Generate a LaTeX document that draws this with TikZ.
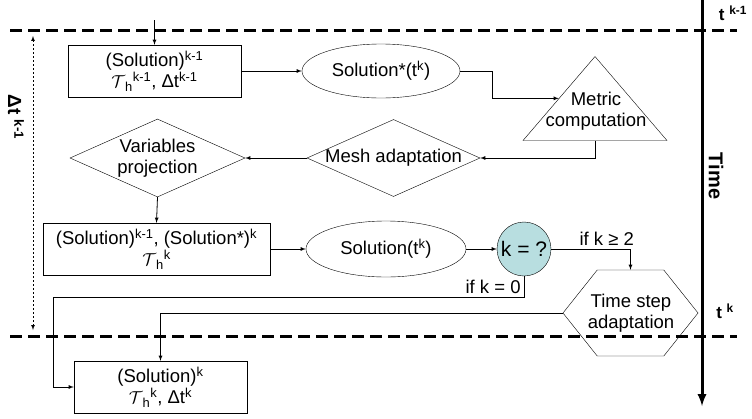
\documentclass[tikz,border=0pt]{standalone}
\usepackage{fontspec}
\setmainfont{Liberation Sans}
\usetikzlibrary{shapes.geometric,shapes.symbols}
\definecolor{testfill}{HTML}{B8DEE0}
\newcommand{\Th}{$\mathcal{T}$\textsubscript{h}}

\begin{document}
\begin{tikzpicture}[x=1pt,y=-1pt,>=latex,
                    font=\fontsize{18.5}{21}\selectfont,
                    stepbox/.style={draw,rectangle,align=center,minimum height=52pt,inner sep=1pt},
                    oval/.style={draw,ellipse,minimum width=158pt,minimum height=54pt,inner sep=0pt},
                    choice/.style={draw,diamond,align=center,aspect=2.24,minimum width=175pt,minimum height=78pt,inner sep=0pt},
                    timeline/.style={line width=3pt,dash pattern=on 12pt off 6pt},
                    edge/.style={draw,line width=0.8pt,->}]
  \useasboundingbox (0,0) rectangle (752,418);

  % time levels
  \coordinate (up1) at (10,30);  \coordinate (up2) at (737,30);
  \coordinate (lo1) at (10,336); \coordinate (lo2) at (737,336);
  \draw[timeline] (up1) -- (up2);
  \draw[timeline] (lo1) -- (lo2);
  \coordinate (ax1) at (702,0); \coordinate (ax2) at (702,406);
  \draw[line width=3pt,-latex] (ax1) -- (ax2);
  \node (tprev) at (733,13) {\fontsize{17}{19}\selectfont\textbf{t \textsuperscript{k-1}}};
  \node (tnext) at (725,311) {\fontsize{17}{19}\selectfont\textbf{t \textsuperscript{k}}};
  \node[rotate=-90] (time) at (716,176) {\fontsize{20}{22}\selectfont\textbf{Time}};
  \coordinate (dt1) at (33,36); \coordinate (dt2) at (33,330);
  \draw[line width=0.7pt,dash pattern=on 2pt off 2pt,latex-latex] (dt1) -- (dt2);
  \node[rotate=-90] (dt) at (16,117) {\fontsize{19}{21}\selectfont\textbf{Δt \textsuperscript{k-1}}};

  % steps
  \node[stepbox,minimum width=173pt] (prev) at (154.5,71)
    {(Solution)\textsuperscript{k-1}\\\Th\textsuperscript{k-1}, Δt\textsuperscript{k-1}};
  \node[oval] (star) at (381,71) {Solution*(t\textsuperscript{k})};
  \node[draw,isosceles triangle,shape border rotate=90,isosceles triangle stretches,
        minimum width=144pt,minimum height=84pt,anchor=apex,inner sep=0pt]
        (metric) at (595,56) {};
  \node[align=center] (metrictext) at (596,111) {Metric\\computation};
  \node[choice,minimum width=173pt,minimum height=77pt,inner xsep=-6pt] (mesh) at (393.5,158) {Mesh adaptation};
  \node[choice] (proj) at (157.5,158) {Variables\\projection};
  \node[stepbox,minimum width=227pt] (both) at (156.5,249)
    {(Solution)\textsuperscript{k-1}, (Solution*)\textsuperscript{k}\\\Th\textsuperscript{k}};
  \node[oval,minimum width=160pt,minimum height=56pt] (sol) at (386,249) {Solution(t\textsuperscript{k})};
  \node[draw,circle,fill=testfill,minimum size=54pt,inner sep=0pt,font=\fontsize{21}{23}\selectfont] (test) at (524,249) {k = ?};
  \node[draw,signal,signal to=west and east,signal pointer angle=103,
        minimum width=135pt,minimum height=86pt,inner sep=0pt]
        (adapt) at (630.5,313) {};
  \node[align=center] (adapttext) at (631,313) {Time step\\adaptation};
  \node[stepbox,minimum width=173pt] (next) at (160.5,387)
    {(Solution)\textsuperscript{k}\\\Th\textsuperscript{k}, Δt\textsuperscript{k}};

  % connections
  \coordinate (in) at (154.5,20);
  \coordinate (zero) at (53,297);
  \path[edge] (in) -- (prev.north);
  \path[edge] (prev.east) -- (star.west);
  \path[edge] (star.east) -- ++(32,0) |- (metric.left side);
  \path[edge] (metric.lower side) |- (mesh.east);
  \path[edge] (mesh.west) -- (proj.east);
  \path[edge] (proj.south) -- (both.north);
  \path[edge] (both.east) -- (sol.west);
  \path[edge] (sol.east) -- (test.west);
  \path[edge] (test.east) -| node[pos=0.35,above]{if k ≥ 2} (adapt.north);
  \path[edge] (test.south) |- node[above left,inner sep=3pt]{if k = 0} (zero) |- (next.west);
  \path[edge] (adapt.west) -| (next.north);
\end{tikzpicture}
\end{document}
